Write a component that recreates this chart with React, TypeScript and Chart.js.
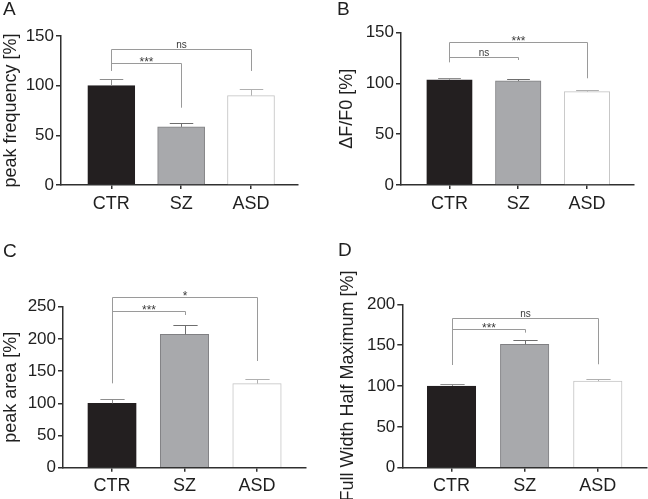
import React, { useEffect, useRef } from 'react';
import { Chart, registerables } from 'chart.js';

Chart.register(...registerables);

// ---------- data ----------
const categories = ['CTR', 'SZ', 'ASD'];

const freqMean = [100, 58.5, 90];
const freqSem = [6.5, 4, 7];
const freqTicks = [0, 50, 100, 150];

const dffMean = [103.5, 102.5, 92];
const dffSem = [2, 2.2, 1.3];
const dffTicks = [0, 50, 100, 150];

const areaMean = [100, 207, 130.5];
const areaSem = [6, 14, 7];
const areaTicks = [0, 50, 100, 150, 200, 250];

const fwhmMean = [100, 151, 106];
const fwhmSem = [2.5, 5, 2.3];
const fwhmTicks = [0, 50, 100, 150, 200];

// significance brackets: from/to category index, level, leg ends (axis units), label
const freqBrackets = [
  { from: 0, to: 1, level: 122.5, leftEnd: 122.5, rightEnd: 77.8, label: '***' },
  { from: 0, to: 2, level: 137, leftEnd: 114.8, rightEnd: 114.8, label: 'ns' },
];
const dffBrackets = [
  { from: 0, to: 1, level: 126.4, leftEnd: 126.4, rightEnd: 123.1, label: 'ns' },
  { from: 0, to: 2, level: 140.5, leftEnd: 120.8, rightEnd: 105.1, label: '***' },
];
const areaBrackets = [
  { from: 0, to: 1, level: 243.3, leftEnd: 243.3, rightEnd: 237.1, label: '***' },
  { from: 0, to: 2, level: 265.5, leftEnd: 131, rightEnd: 165.7, label: '*' },
];
const fwhmBrackets = [
  { from: 0, to: 1, level: 169.5, leftEnd: 169.5, rightEnd: 165.3, label: '***' },
  { from: 0, to: 2, level: 183, leftEnd: 125.7, rightEnd: 126.6, label: 'ns' },
];

// ---------- styles ----------
const barFill = ['#231f20', '#a8a9ac', '#ffffff'];
const barBorder = ['#231f20', '#808083', '#c4c4c4'];
const errColor = ['#8e8e8e', '#6e6e6e', '#b0b0b0'];
const FONT = "'Liberation Sans', Arial, sans-serif";
const TEXT = '#1f1f1f';
const AXIS = '#303030';

type Bracket = { from: number; to: number; level: number; leftEnd: number; rightEnd: number; label: string };

type Panel = {
  letter: string;
  title: string;
  mean: number[];
  sem: number[];
  ticks: number[];
  brackets: Bracket[];
  canvas: { left: number; top: number; w: number; h: number };
  area: { left: number; right: number; top: number; bottom: number };
  xMin: number;
  xMax: number;
  barW: number;
  titlePad: number;
  letterPos: { x: number; y: number };
};

const panels: Panel[] = [
  {
    letter: 'A', title: 'peak frequency [%]', mean: freqMean, sem: freqSem, ticks: freqTicks, brackets: freqBrackets,
    canvas: { left: 0, top: 0, w: 324, h: 235 },
    area: { left: 61, right: 298, top: 36, bottom: 185 },
    xMin: -0.72, xMax: 2.673, barW: 47, titlePad: 0, letterPos: { x: 3, y: 15 },
  },
  {
    letter: 'B', title: 'ΔF/F0 [%]', mean: dffMean, sem: dffSem, ticks: dffTicks, brackets: dffBrackets,
    canvas: { left: 324, top: 0, w: 324, h: 235 },
    area: { left: 77, right: 310, top: 32.7, bottom: 185 },
    xMin: -0.705, xMax: 2.684, barW: 45.5, titlePad: 12, letterPos: { x: 13, y: 15 },
  },
  {
    letter: 'C', title: 'peak area [%]', mean: areaMean, sem: areaSem, ticks: areaTicks, brackets: areaBrackets,
    canvas: { left: 0, top: 235, w: 324, h: 264 },
    area: { left: 63, right: 306, top: 71.7, bottom: 232.7 },
    xMin: -0.676, xMax: 2.676, barW: 48.5, titlePad: 0, letterPos: { x: 3, y: 22 },
  },
  {
    letter: 'D', title: 'Full Width Half Maximum [%]', mean: fwhmMean, sem: fwhmSem, ticks: fwhmTicks, brackets: fwhmBrackets,
    canvas: { left: 324, top: 235, w: 324, h: 264 },
    area: { left: 78.3, right: 323, top: 69.3, bottom: 232.7 },
    xMin: -0.673, xMax: 2.673, barW: 48.5, titlePad: 13, letterPos: { x: 14, y: 20.7 },
  },
];

function makeChart(canvas: HTMLCanvasElement, p: Panel) {
  const yMax = p.ticks[p.ticks.length - 1];
  const overlay = {
    id: 'overlay' + p.letter,
    afterDatasetsDraw(chart: any) {
      const ctx = chart.ctx;
      const xs = chart.scales.x;
      const ys = chart.scales.y;
      const meta = chart.getDatasetMeta(0);
      ctx.save();
      // error bars (upper SEM)
      meta.data.forEach((el: any, i: number) => {
        const x = Math.round(el.x) + 0.5;
        const yTop = ys.getPixelForValue(p.mean[i]);
        const yErr = Math.round(ys.getPixelForValue(p.mean[i] + p.sem[i])) + 0.5;
        const half = el.width / 4;
        ctx.strokeStyle = errColor[i];
        ctx.lineWidth = 1;
        ctx.beginPath();
        ctx.moveTo(x, yTop);
        ctx.lineTo(x, yErr);
        ctx.moveTo(x - half, yErr);
        ctx.lineTo(x + half, yErr);
        ctx.stroke();
      });
      // brackets
      p.brackets.forEach((b) => {
        const x1 = Math.round(xs.getPixelForValue(b.from)) + 0.5;
        const x2 = Math.round(xs.getPixelForValue(b.to)) + 0.5;
        const yl = Math.round(ys.getPixelForValue(b.level)) + 0.5;
        const yL = ys.getPixelForValue(b.leftEnd);
        const yR = ys.getPixelForValue(b.rightEnd);
        ctx.strokeStyle = '#9a9a9a';
        ctx.lineWidth = 1;
        ctx.beginPath();
        ctx.moveTo(x1, yL);
        ctx.lineTo(x1, yl);
        ctx.lineTo(x2, yl);
        ctx.lineTo(x2, yR);
        ctx.stroke();
        ctx.fillStyle = '#3a3a3a';
        ctx.textAlign = 'center';
        ctx.textBaseline = 'alphabetic';
        if (b.label === 'ns') {
          ctx.font = `10px ${FONT}`;
          ctx.fillText(b.label, (x1 + x2) / 2, yl - 2);
        } else {
          ctx.font = `12px ${FONT}`;
          ctx.fillText(b.label, (x1 + x2) / 2, yl + 2);
        }
      });
      // panel letter
      ctx.fillStyle = TEXT;
      ctx.font = `19px ${FONT}`;
      ctx.textAlign = 'left';
      ctx.textBaseline = 'alphabetic';
      ctx.fillText(p.letter, p.letterPos.x, p.letterPos.y);
      ctx.restore();
    },
  };

  return new Chart(canvas, {
    type: 'bar',
    data: {
      datasets: [
        {
          data: p.mean.map((v, i) => ({ x: i, y: v })),
          backgroundColor: barFill,
          borderColor: barBorder,
          borderWidth: 1,
          barThickness: p.barW,
        } as any,
      ],
    },
    options: {
      responsive: false,
      animation: false,
      events: [],
      layout: {
        padding: {
          left: 0,
          top: p.area.top,
          right: p.canvas.w - p.area.right,
          bottom: 0,
        },
      },
      plugins: { legend: { display: false }, tooltip: { enabled: false } },
      scales: {
        x: {
          type: 'linear',
          offset: false,
          min: p.xMin,
          max: p.xMax,
          afterBuildTicks: (s: any) => {
            s.ticks = categories.map((_, i) => ({ value: i }));
          },
          afterFit: (s: any) => {
            s.height = p.canvas.h - p.area.bottom;
          },
          ticks: {
            callback: (v: any) => categories[Math.round(Number(v))],
            font: { family: FONT, size: 18 },
            color: TEXT,
            padding: 4,
            maxRotation: 0,
            autoSkip: false,
          },
          grid: { offset: false, drawOnChartArea: false, drawTicks: true, tickLength: 4, tickColor: AXIS, lineWidth: 1.5 },
          border: { display: true, color: AXIS, width: 1.5 },
        },
        y: {
          type: 'linear',
          min: 0,
          max: yMax,
          afterBuildTicks: (s: any) => {
            s.ticks = p.ticks.map((v) => ({ value: v }));
          },
          afterFit: (s: any) => {
            s.width = p.area.left;
          },
          ticks: {
            font: { family: FONT, size: 17 },
            color: TEXT,
            padding: 2,
          },
          title: {
            display: true,
            text: p.title,
            font: { family: FONT, size: 18 },
            color: TEXT,
            padding: { top: p.titlePad, bottom: 0 },
          },
          grid: { drawOnChartArea: false, drawTicks: true, tickLength: 5, tickColor: AXIS, lineWidth: 1.5 },
          border: { display: true, color: AXIS, width: 1.5 },
        },
      },
    } as any,
    plugins: [overlay],
  });
}

function PanelChart({ p }: { p: Panel }) {
  const ref = useRef<HTMLCanvasElement | null>(null);
  useEffect(() => {
    if (!ref.current) return;
    const chart = makeChart(ref.current, p);
    return () => chart.destroy();
  }, [p]);
  return (
    <canvas
      ref={ref}
      width={p.canvas.w}
      height={p.canvas.h}
      style={{
        position: 'absolute',
        left: p.canvas.left,
        top: p.canvas.top,
        width: p.canvas.w,
        height: p.canvas.h,
        display: 'block',
      }}
    />
  );
}

export default function App() {
  return (
    <div
      style={{
        position: 'fixed',
        left: 0,
        top: 0,
        width: 648,
        height: 499,
        background: '#ffffff',
        overflow: 'hidden',
      }}
    >
      {panels.map((p) => (
        <PanelChart key={p.letter} p={p} />
      ))}
    </div>
  );
}
